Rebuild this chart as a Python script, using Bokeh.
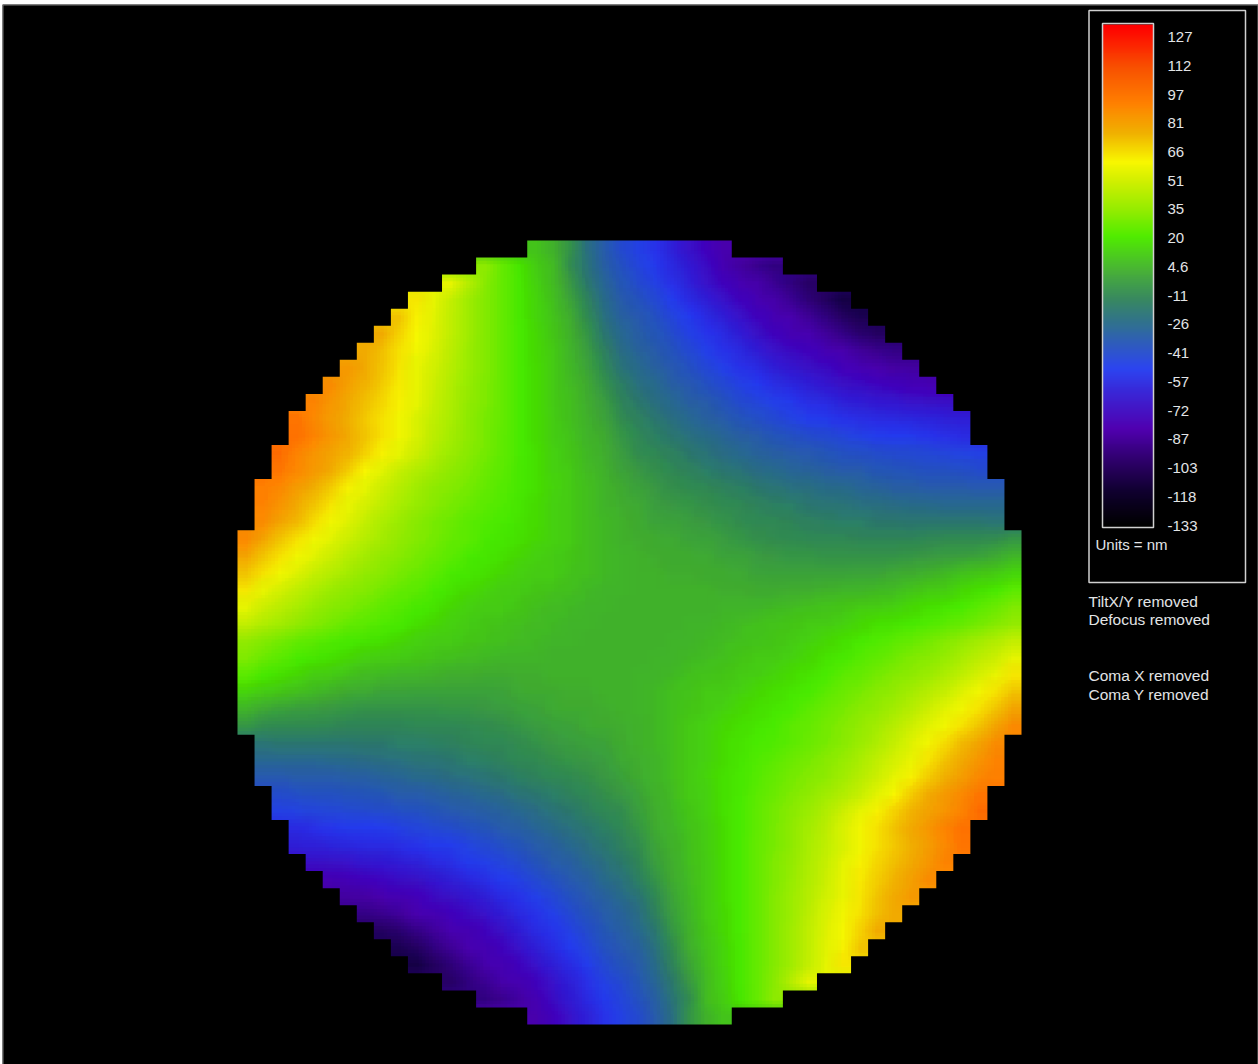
import numpy as np
from bokeh.plotting import figure
from bokeh.models import Range1d, LinearColorMapper
from bokeh.core.properties import value
from bokeh.embed import file_html
from bokeh.resources import INLINE

# values in nm; each row lists only the cells inside the aperture
field_rows = [
[9,4,-6,-22,-32,-41,-46,-52,-60,-67,-74,-81],
[36,27,20,13,7,-8,-20,-30,-38,-44,-50,-57,-63,-70,-77,-84,-88,-91],
[56,45,35,27,21,14,7,-4,-17,-27,-35,-41,-46,-53,-60,-67,-73,-79,-82,-87,-92,-97],
[65,56,48,40,33,27,21,15,8,0,-13,-24,-32,-37,-42,-48,-55,-61,-67,-73,-78,-82,-87,-93,-100,-106],
[72,63,55,47,40,33,27,21,15,9,3,-9,-21,-29,-34,-38,-44,-49,-55,-61,-67,-73,-78,-81,-86,-92,-98,-103],
[78,69,61,54,47,40,33,27,22,16,10,4,-5,-18,-26,-31,-35,-40,-46,-51,-56,-62,-68,-73,-77,-80,-85,-90,-95,-98],
[78,73,66,60,53,46,39,33,27,22,16,11,5,-2,-14,-23,-28,-32,-37,-42,-47,-52,-57,-62,-67,-71,-74,-78,-81,-85,-88,-90],
[83,78,72,65,58,51,45,39,33,27,22,17,11,6,0,-10,-20,-25,-29,-34,-38,-43,-47,-52,-56,-61,-65,-68,-71,-75,-78,-81,-83,-84],
[87,81,75,70,64,58,50,44,38,32,27,22,17,12,7,2,-6,-15,-21,-25,-30,-34,-38,-42,-46,-49,-54,-58,-61,-65,-68,-70,-72,-74,-76,-77],
[90,84,78,73,68,63,56,49,43,37,32,27,22,17,12,8,3,-2,-12,-17,-22,-26,-30,-33,-37,-41,-44,-47,-50,-54,-57,-60,-62,-64,-65,-67,-68,-69],
[95,88,82,76,71,66,60,53,47,42,36,31,27,22,17,13,8,4,0,-8,-14,-18,-22,-26,-29,-32,-36,-39,-42,-45,-48,-50,-52,-54,-56,-57,-58,-59,-60,-61],
[96,90,84,78,72,66,60,53,46,41,36,31,26,22,17,13,9,5,2,-5,-11,-15,-18,-21,-24,-27,-30,-33,-36,-38,-40,-42,-44,-46,-48,-49,-50,-51,-53,-55],
[97,90,85,80,75,69,63,56,50,44,39,34,30,26,22,18,14,10,6,3,-2,-8,-11,-14,-17,-20,-23,-26,-28,-30,-32,-34,-36,-38,-39,-40,-41,-42,-43,-44,-45,-46],
[94,88,83,77,70,62,55,49,44,40,36,32,28,25,21,18,14,11,7,4,0,-4,-7,-10,-13,-16,-18,-20,-23,-25,-27,-28,-30,-32,-33,-35,-36,-37,-38,-38,-39,-40],
[92,88,82,76,70,63,56,50,45,40,36,33,30,27,24,21,18,15,11,8,5,2,-1,-4,-7,-9,-11,-13,-15,-17,-19,-21,-22,-24,-25,-27,-28,-30,-31,-32,-33,-33,-34,-34],
[90,85,78,72,65,58,52,47,42,38,34,31,28,25,23,20,17,14,11,8,5,3,1,-2,-4,-5,-7,-9,-11,-13,-15,-16,-18,-19,-20,-21,-22,-23,-24,-25,-26,-26,-26,-26],
[87,80,74,67,60,54,48,43,39,35,31,28,25,23,22,19,17,14,11,8,6,4,2,0,-1,-2,-4,-6,-8,-10,-11,-12,-14,-15,-16,-16,-17,-17,-18,-18,-18,-18,-18,-19],
[88,80,72,66,60,55,50,45,41,37,33,30,27,25,22,20,18,16,14,11,8,6,4,3,2,1,0,-1,-3,-5,-7,-8,-9,-10,-11,-11,-12,-12,-12,-12,-10,-9,-9,-9,-8,-5],
[80,72,66,60,55,50,45,41,37,34,31,28,25,22,20,18,16,14,12,10,8,6,5,4,3,2,2,1,0,-1,-3,-4,-5,-5,-6,-6,-6,-6,-6,-5,-4,-3,-2,-1,1,5],
[72,66,60,54,49,45,41,37,34,31,28,25,22,20,18,16,14,12,11,9,8,6,5,4,4,3,3,2,2,1,0,-1,-1,-1,-1,-1,0,0,1,2,4,6,8,10,12,15],
[65,58,52,47,43,39,36,33,30,27,25,22,19,17,15,13,12,10,9,8,6,5,5,4,4,4,4,4,3,3,2,2,3,3,4,5,5,6,7,9,11,13,16,18,21,25],
[56,50,46,42,38,35,32,29,26,24,21,19,16,14,12,11,10,8,7,6,5,5,4,4,4,4,4,4,5,5,5,6,7,8,9,10,11,13,14,16,18,20,22,25,28,32],
[48,44,41,37,33,30,27,25,23,21,18,16,14,12,10,9,8,7,6,5,5,4,4,4,4,4,5,5,6,7,8,9,10,11,12,14,16,18,19,21,23,25,27,30,33,37],
[37,33,30,27,25,23,21,19,18,16,14,12,11,10,9,8,7,6,5,5,4,4,4,4,4,5,5,6,7,8,9,10,12,14,16,18,21,23,25,27,30,33,37,41,44,48],
[32,28,25,22,20,18,16,14,13,11,10,9,8,7,6,5,5,5,4,4,4,4,4,4,5,5,6,7,8,10,11,12,14,16,19,21,24,26,29,32,35,38,42,46,50,56],
[25,21,18,16,13,11,9,7,6,5,5,4,3,3,2,2,3,3,4,4,4,4,4,5,5,6,8,9,10,12,13,15,17,19,22,25,27,30,33,36,39,43,47,52,58,65],
[15,12,10,8,6,4,2,1,0,0,-1,-1,-1,-1,-1,0,1,2,2,3,3,4,4,5,6,8,9,11,12,14,16,18,20,22,25,28,31,34,37,41,45,49,54,60,66,72],
[5,1,-1,-2,-3,-4,-5,-6,-6,-6,-6,-6,-5,-5,-4,-3,-1,0,1,2,2,3,4,5,6,8,10,12,14,16,18,20,22,25,28,31,34,37,41,45,50,55,60,66,72,80],
[-5,-8,-9,-9,-9,-10,-12,-12,-12,-12,-11,-11,-10,-9,-8,-7,-5,-3,-1,0,1,2,3,4,6,8,11,14,16,18,20,22,25,27,30,33,37,41,45,50,55,60,66,72,80,88],
[-19,-18,-18,-18,-18,-18,-17,-17,-16,-16,-15,-14,-12,-11,-10,-8,-6,-4,-2,-1,0,2,4,6,8,11,14,17,19,22,23,25,28,31,35,39,43,48,54,60,67,74,80,87],
[-26,-26,-26,-26,-25,-24,-23,-22,-21,-20,-19,-18,-16,-15,-13,-11,-9,-7,-5,-4,-2,1,3,5,8,11,14,17,20,23,25,28,31,34,38,42,47,52,58,65,72,78,85,90],
[-34,-34,-33,-33,-32,-31,-30,-28,-27,-25,-24,-22,-21,-19,-17,-15,-13,-11,-9,-7,-4,-1,2,5,8,11,15,18,21,24,27,30,33,36,40,45,50,56,63,70,76,82,88,92],
[-40,-39,-38,-38,-37,-36,-35,-33,-32,-30,-28,-27,-25,-23,-20,-18,-16,-13,-10,-7,-4,0,4,7,11,14,18,21,25,28,32,36,40,44,49,55,62,70,77,83,88,94],
[-46,-45,-44,-43,-42,-41,-40,-39,-38,-36,-34,-32,-30,-28,-26,-23,-20,-17,-14,-11,-8,-2,3,6,10,14,18,22,26,30,34,39,44,50,56,63,69,75,80,85,90,97],
[-55,-53,-51,-50,-49,-48,-46,-44,-42,-40,-38,-36,-33,-30,-27,-24,-21,-18,-15,-11,-5,2,5,9,13,17,22,26,31,36,41,46,53,60,66,72,78,84,90,96],
[-61,-60,-59,-58,-57,-56,-54,-52,-50,-48,-45,-42,-39,-36,-32,-29,-26,-22,-18,-14,-8,0,4,8,13,17,22,27,31,36,42,47,53,60,66,71,76,82,88,95],
[-69,-68,-67,-65,-64,-62,-60,-57,-54,-50,-47,-44,-41,-37,-33,-30,-26,-22,-17,-12,-2,3,8,12,17,22,27,32,37,43,49,56,63,68,73,78,84,90],
[-77,-76,-74,-72,-70,-68,-65,-61,-58,-54,-49,-46,-42,-38,-34,-30,-25,-21,-15,-6,2,7,12,17,22,27,32,38,44,50,58,64,70,75,81,87],
[-84,-83,-81,-78,-75,-71,-68,-65,-61,-56,-52,-47,-43,-38,-34,-29,-25,-20,-10,0,6,11,17,22,27,33,39,45,51,58,65,72,78,83],
[-90,-88,-85,-81,-78,-74,-71,-67,-62,-57,-52,-47,-42,-37,-32,-28,-23,-14,-2,5,11,16,22,27,33,39,46,53,60,66,73,78],
[-98,-95,-90,-85,-80,-77,-73,-68,-62,-56,-51,-46,-40,-35,-31,-26,-18,-5,4,10,16,22,27,33,40,47,54,61,69,78],
[-103,-98,-92,-86,-81,-78,-73,-67,-61,-55,-49,-44,-38,-34,-29,-21,-9,3,9,15,21,27,33,40,47,55,63,72],
[-106,-100,-93,-87,-82,-78,-73,-67,-61,-55,-48,-42,-37,-32,-24,-13,0,8,15,21,27,33,40,48,56,65],
[-97,-92,-87,-82,-79,-73,-67,-60,-53,-46,-41,-35,-27,-17,-4,7,14,21,27,35,45,56],
[-91,-88,-84,-77,-70,-63,-57,-50,-44,-38,-30,-20,-8,7,13,20,27,36],
[-81,-74,-67,-60,-52,-46,-41,-32,-22,-6,4,9],
]
scale_labels = ["127","112","97","81","66","51","35","20","4.6","-11","-26","-41","-57","-72","-87","-103","-118","-133"]
note_labels = ["TiltX/Y removed","Defocus removed","Coma X removed","Coma Y removed"]
units_label = "Units = nm"
scale_low, scale_high = -133.5, 134.5
palette_values = [-133,-114,-97,-81,-61,-49,-25,-12,3,21.5,35,53,61.5,77,93,112,134]
palette_colors = ["#000000","#100030","#300070","#5000b0","#3828d8","#2c44f0","#307090","#388860","#48b038",
                  "#50ec00","#90ec00","#d8f000","#f8f800","#f0b000","#ff8000","#f85000","#ff0000"]

# layout in page pixels
H = 1064
def Y(py):
    return H - py
TXT = "#e2e4e6"
FX, FY, FS = 237, 240, 784
SHADE_STEPS = 5

def build_palette(n=256):
    vs = np.linspace(scale_low, scale_high, n)
    rgb = np.array([[int(c[i:i+2], 16) for i in (1, 3, 5)] for c in palette_colors], float)
    out = []
    for v in vs:
        r, g, b = (int(round(np.interp(v, palette_values, rgb[:, k]))) for k in range(3))
        out.append(f"#{r:02x}{g:02x}{b:02x}")
    return out

mapper = LinearColorMapper(palette=build_palette(), low=scale_low, high=scale_high)

# cells outside the aperture repeat the row's end value; the black mask below hides them
n = len(field_rows)
field = np.zeros((n, n))
for r, row in enumerate(field_rows):
    pad = (n - len(row)) // 2
    field[r, :pad] = row[0]
    field[r, pad:pad + len(row)] = row
    field[r, pad + len(row):] = row[-1]
field_img = np.pad(field, 1, mode="edge")[::-1]
cell = FS / n

p = figure(width=1256, height=1060, x_range=Range1d(2, 1258), y_range=Range1d(0, 1060),
           output_backend="svg", toolbar_location=None, x_axis_type=None, y_axis_type=None,
           background_fill_color="#000000", border_fill_color="#000000",
           outline_line_color=None, min_border=0, margin=(4, 0, 0, 2))
p.grid.visible = False

# the map is a continuous shaded surface: the same cell image is laid over itself at
# sub-cell offsets with equal weight, which shades between the cell values
k = 0
for iy in range(SHADE_STEPS):
    for ix in range(SHADE_STEPS):
        k += 1
        dx = ((ix + 0.5) / SHADE_STEPS - 0.5) * cell
        dy = ((iy + 0.5) / SHADE_STEPS - 0.5) * cell
        p.image(image=[field_img], x=FX - cell + dx, y=Y(FY + FS + cell) + dy,
                dw=FS + 2 * cell, dh=FS + 2 * cell, color_mapper=mapper, global_alpha=1.0 / k)

# stepped outline of the aperture, from the number of cells in each row
M = 2 * cell
first_pad = (n - len(field_rows[0])) // 2
last_pad = (n - len(field_rows[-1])) // 2
left_x = [FX - M, FX + first_pad * cell]
left_y = [Y(FY - M), Y(FY - M)]
right_x = [FX + FS + M, FX + FS - first_pad * cell]
right_y = [Y(FY - M), Y(FY - M)]
for r, row in enumerate(field_rows):
    pad = (n - len(row)) // 2
    y0, y1 = Y(FY + r * cell), Y(FY + (r + 1) * cell)
    left_x += [FX + pad * cell] * 2
    left_y += [y0, y1]
    right_x += [FX + FS - pad * cell] * 2
    right_y += [y0, y1]
left_x += [FX + last_pad * cell, FX - M]
left_y += [Y(FY + FS + M), Y(FY + FS + M)]
right_x += [FX + FS - last_pad * cell, FX + FS + M]
right_y += [Y(FY + FS + M), Y(FY + FS + M)]
p.patch(left_x, left_y, fill_color="#000000", line_color=None)
p.patch(right_x, right_y, fill_color="#000000", line_color=None)
p.quad(left=[FX + first_pad * cell - 1], right=[FX + FS - first_pad * cell + 1], top=[Y(FY - M)], bottom=[Y(FY)], fill_color="#000000", line_color=None)
p.quad(left=[FX + last_pad * cell - 1], right=[FX + FS - last_pad * cell + 1], top=[Y(FY + FS)], bottom=[Y(FY + FS + M)], fill_color="#000000", line_color=None)

bar = np.linspace(scale_low, scale_high, 256).reshape(-1, 1)
p.image(image=[bar], x=1102, y=Y(527), dw=51, dh=503, color_mapper=mapper)
p.quad(left=[1102], right=[1153], top=[Y(23)], bottom=[Y(527)], fill_color=None, line_color="#d0d0d0", line_width=1.5)
p.quad(left=[1088.5], right=[1245], top=[Y(10)], bottom=[Y(582)], fill_color=None, line_color="#d0d0d0", line_width=1.5)
p.line([2.5, 2.5, 1257.5, 1257.5], [0, Y(4.5), Y(4.5), 0], line_color="#7a7a7a", line_width=1)

label_y = [Y(36.6 + i * (525 - 36.6) / (len(scale_labels) - 1)) for i in range(len(scale_labels))]
p.text(x=[1167] * len(scale_labels), y=label_y, text=scale_labels, text_color=TXT,
       text_font=value("Liberation Sans"), text_font_size="15px", text_baseline="middle", text_align="left")
p.text(x=[1095], y=[Y(544)], text=[units_label], text_color=TXT,
       text_font=value("Liberation Sans"), text_font_size="15px", text_baseline="middle", text_align="left")
p.text(x=[1088] * 4, y=[Y(600.5), Y(619), Y(675), Y(693.5)], text=note_labels, text_color=TXT,
       text_font=value("Liberation Sans"), text_font_size="15.5px", text_baseline="middle", text_align="left")

open("out.html", "w").write(file_html(p, INLINE))
